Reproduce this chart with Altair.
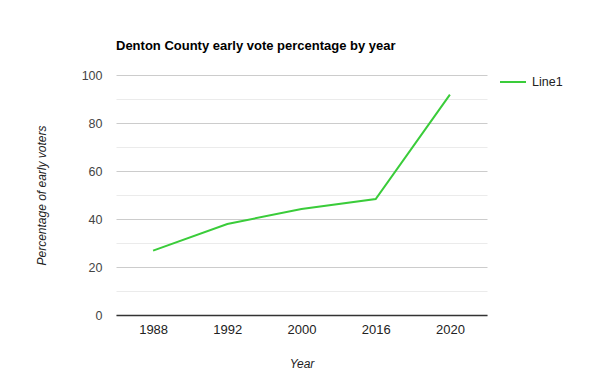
import altair as alt
import pandas as pd

years = ["1988", "1992", "2000", "2016", "2020"]
values = [26.8, 37.9, 44.2, 48.3, 91.8]
series = ["Line1"] * len(years)

df = pd.DataFrame({"Year": years, "Value": values, "Series": series})

FONT = "Liberation Sans"

chart = alt.Chart(df).mark_line(strokeWidth=2).encode(
    x=alt.X("Year:O", sort=years,
            scale=alt.Scale(type="point", padding=0.5),
            axis=alt.Axis(title="Year", labelAngle=0, ticks=False, grid=False,
                          domainColor="#333", domainWidth=1.5,
                          labelPadding=8, labelFontSize=13, labelColor="#222",
                          labelFont=FONT, titleFont=FONT, titleFontSize=12,
                          titleFontStyle="italic", titleFontWeight="normal",
                          titleColor="#222", titlePadding=22)),
    y=alt.Y("Value:Q",
            scale=alt.Scale(domain=[0, 100], nice=False),
            axis=alt.Axis(title="Percentage of early voters",
                          values=[0, 10, 20, 30, 40, 50, 60, 70, 80, 90, 100],
                          labelExpr="datum.value % 20 == 0 ? datum.label : ''",
                          gridColor={"condition": {"test": "datum.value % 20 == 0", "value": "#cccccc"}, "value": "#ebebeb"},
                          ticks=False, domain=False,
                          labelPadding=14, labelFontSize=12.5, labelColor="#444",
                          labelFont=FONT, titleFont=FONT, titleFontSize=12,
                          titleFontStyle="italic", titleFontWeight="normal",
                          titleColor="#222", titlePadding=33)),
    color=alt.Color("Series:N",
                    scale=alt.Scale(range=["#3acc3a"]),
                    legend=alt.Legend(title=None, orient="none",
                                      legendX=383, legendY=-7,
                                      symbolType="stroke", symbolSize=676,
                                      symbolStrokeWidth=2,
                                      labelFont=FONT, labelFontSize=12.5,
                                      labelColor="#222", labelOffset=5)),
).properties(
    width=371,
    height=240,
    title=alt.TitleParams("Denton County early vote percentage by year",
                          anchor="start", frame="group", font=FONT,
                          fontSize=13, fontWeight="bold", color="#000",
                          offset=15),
    autosize=alt.AutoSizeParams(type="none"),
    padding={"left": 108, "top": 67, "right": 100, "bottom": 70},
).configure_view(stroke=None)

chart.save("out.html", embed_options={"renderer": "svg", "actions": False})
